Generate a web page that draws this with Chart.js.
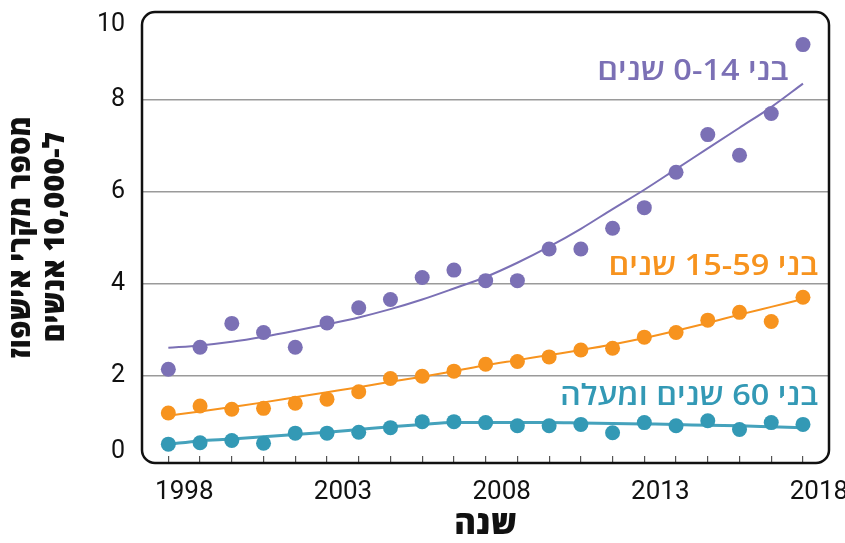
<!DOCTYPE html>
<html lang="he">
<head>
<meta charset="utf-8">
<script src="https://cdn.jsdelivr.net/npm/chart.js@4.4.1/dist/chart.umd.min.js"></script>
<style>
  html, body { margin: 0; padding: 0; background: #fff; }
  #caja { width: 845px; height: 543px; }
</style>
</head>
<body>
<div id="caja"><canvas id="grafica" dir="rtl"></canvas></div>
<script>
// Datos
const anios = [1998, 1999, 2000, 2001, 2002, 2003, 2004, 2005, 2006, 2007, 2008,
  2009, 2010, 2011, 2012, 2013, 2014, 2015, 2016, 2017, 2018];

const ninos = [2.14, 2.62, 3.14, 2.94, 2.62, 3.15, 3.48, 3.66, 4.14, 4.30, 4.07,
  4.07, 4.76, 4.76, 5.21, 5.66, 6.43, 7.25, 6.80, 7.71, 9.21];
const ninosTendencia = [2.61, 2.66, 2.74, 2.85, 2.98, 3.12, 3.27, 3.45, 3.66, 3.90, 4.15,
  4.46, 4.81, 5.20, 5.63, 6.05, 6.50, 6.95, 7.40, 7.85, 8.36];

const adultos = [1.19, 1.34, 1.27, 1.29, 1.40, 1.49, 1.65, 1.94, 1.99, 2.10, 2.25,
  2.31, 2.41, 2.56, 2.60, 2.84, 2.94, 3.21, 3.38, 3.18, 3.71];
const adultosTendencia = [1.13, 1.22, 1.32, 1.42, 1.53, 1.64, 1.75, 1.87, 1.98, 2.10, 2.23,
  2.34, 2.45, 2.56, 2.68, 2.82, 2.98, 3.15, 3.33, 3.50, 3.67];

const mayores = [0.51, 0.54, 0.59, 0.53, 0.75, 0.75, 0.77, 0.87, 1.00, 1.00, 0.98,
  0.91, 0.91, 0.94, 0.76, 0.98, 0.91, 1.02, 0.83, 0.98, 0.94];
const mayoresTendencia = [0.51, 0.58, 0.62, 0.67, 0.72, 0.77, 0.83, 0.89, 0.94, 0.98, 0.98,
  0.98, 0.98, 0.97, 0.96, 0.95, 0.94, 0.92, 0.91, 0.89, 0.87];

const nombresSeries = ["בני 0-14 שנים", "בני 15-59 שנים", "בני 60 שנים ומעלה"];
const etiquetasY = ["0", "2", "4", "6", "8", "10"];
const valoresY = [0, 2, 4, 6, 8, 10];
const etiquetasX = [1998, 2003, 2008, 2013, 2018];
const tituloY = ["מספר מקרי אישפוז", "ל-10,000 אנשים"];
const tituloX = "שנה";

const FUENTE = 'Roboto, "Open Sans", "DejaVu Sans", sans-serif';
const FUENTE_HEB = '"Open Sans", "DejaVu Sans", sans-serif';
const colores = ["#7b70b5", "#f7931e", "#3399b5"];

function puntos(valores) {
  return anios.map((a, i) => ({ x: a, y: valores[i] }));
}

function serieMarcas(valores, color) {
  return {
    data: puntos(valores), showLine: false, order: 0,
    pointRadius: 7.5, pointHoverRadius: 7.5, pointBorderWidth: 0,
    pointBackgroundColor: color
  };
}

function serieTendencia(valores, color, ancho) {
  return {
    data: puntos(valores), showLine: true, order: 1,
    borderColor: color, borderWidth: ancho, pointRadius: 0,
    cubicInterpolationMode: "monotone", fill: false
  };
}

// Marco redondeado y nombres de las series
const marcoYNombres = {
  id: "marcoYNombres",
  afterDraw(chart) {
    const { ctx, chartArea: a, scales: { x, y } } = chart;
    ctx.save();
    ctx.lineWidth = 2.5;
    ctx.strokeStyle = "#111";
    ctx.beginPath();
    ctx.roundRect(a.left, a.top, a.right - a.left, a.bottom - a.top, 13);
    ctx.stroke();

    const anclas = [[2017.54, 8.61], [2018.48, 4.37], [2018.48, 1.54]];
    ctx.direction = "rtl";
    ctx.textAlign = "right";
    ctx.textBaseline = "middle";
    ctx.font = "600 29px " + FUENTE_HEB;
    nombresSeries.forEach((n, i) => {
      ctx.save();
      ctx.translate(x.getPixelForValue(anclas[i][0]), y.getPixelForValue(anclas[i][1]));
      ctx.scale(1.12, 1);   // letra algo más ancha, como en el original
      ctx.fillStyle = colores[i];
      ctx.fillText(n, 0, 0);
      ctx.restore();
    });
    ctx.restore();
  }
};

const grafica = new Chart(document.getElementById("grafica"), {
  type: "scatter",
  data: {
    datasets: [
      serieMarcas(ninos, colores[0]),
      serieMarcas(adultos, colores[1]),
      serieMarcas(mayores, colores[2]),
      serieTendencia(ninosTendencia, colores[0], 2),
      serieTendencia(adultosTendencia, colores[1], 2),
      serieTendencia(mayoresTendencia, "#45a2bc", 3)
    ]
  },
  options: {
    responsive: true,
    maintainAspectRatio: false,
    animation: false,
    layout: { padding: { top: 12, right: 16, bottom: 0, left: 0 } },
    plugins: { legend: { display: false }, tooltip: { enabled: false } },
    scales: {
      x: {
        type: "linear",
        min: 1997.17,
        max: 2018.82,
        afterBuildTicks: s => { s.ticks = anios.map(v => ({ value: v })); },
        afterFit: s => { s.height = 80; s.paddingLeft = 0; s.paddingRight = 0; },
        ticks: {
          autoSkip: false, maxRotation: 0, padding: 21, labelOffset: 16,
          color: "#111", font: { family: FUENTE, size: 26 },
          callback: v => etiquetasX.includes(v) ? String(v) : ""
        },
        grid: { drawOnChartArea: false, drawTicks: true, tickLength: -7, color: "#555", lineWidth: 1.2 },
        border: { display: false },
        title: {
          display: true, text: tituloX, color: "#111",
          font: { family: FUENTE_HEB, size: 33, weight: 800, lineHeight: 1.1 },
          padding: { top: 0, bottom: 0 }
        }
      },
      y: {
        min: 0.1,
        max: 9.92,
        afterBuildTicks: s => {
          // las etiquetas extremas quedan dentro del marco
          s.ticks = valoresY.map(v => ({ value: Math.min(Math.max(v, 0.35), 9.65) }));
        },
        afterFit: s => { s.width = 142; s.paddingTop = 0; s.paddingBottom = 0; },
        ticks: {
          padding: 17, color: "#111", font: { family: FUENTE, size: 25 },
          callback: (v, i) => etiquetasY[i]
        },
        grid: {
          drawTicks: false, lineWidth: 1.6,
          color: c => (c.index === 0 || c.index === valoresY.length - 1) ? "rgba(0,0,0,0)" : "#9a9a9a"
        },
        border: { display: false },
        title: {
          display: true, text: tituloY, color: "#111",
          font: { family: FUENTE_HEB, size: 29, weight: 800, lineHeight: 1.17 },
          padding: { top: 5, bottom: 0 }
        }
      }
    }
  },
  plugins: [marcoYNombres]
});
</script>
</body>
</html>
